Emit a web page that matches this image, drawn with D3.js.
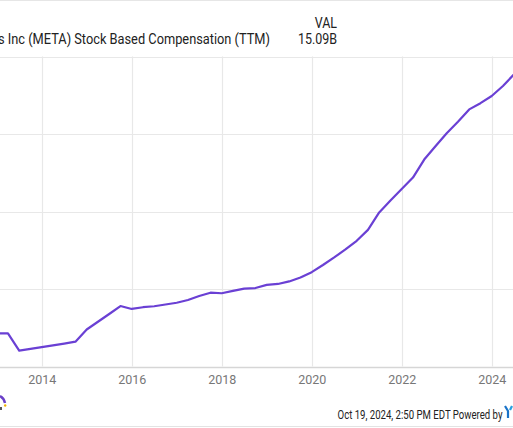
<!DOCTYPE html>
<html>
<head>
<meta charset="utf-8">
<script src="https://cdn.jsdelivr.net/npm/d3@7/dist/d3.min.js"></script>
<style>
html,body{margin:0;padding:0;background:#fff;overflow:hidden;}
svg{display:block;font-family:Roboto,"Noto Sans",sans-serif;}
</style>
</head>
<body>
<svg id="chart" width="513" height="428"></svg>
<script>
// quarter-end dates (fractional years) and TTM stock based compensation (billions USD)
const quarters = [2012.75, 2013.0, 2013.25, 2013.5, 2013.75, 2014.0, 2014.25, 2014.5, 2014.75,
  2015.0, 2015.25, 2015.5, 2015.75, 2016.0, 2016.25, 2016.5, 2016.75, 2017.0, 2017.25, 2017.5,
  2017.75, 2018.0, 2018.25, 2018.5, 2018.75, 2019.0, 2019.25, 2019.5, 2019.75, 2020.0, 2020.25,
  2020.5, 2020.75, 2021.0, 2021.25, 2021.5, 2021.75, 2022.0, 2022.25, 2022.5, 2022.75, 2023.0,
  2023.25, 2023.5, 2023.75, 2024.0, 2024.25, 2024.5];
const sbcTTM = [1.71, 1.71, 1.71, 0.82, 0.91, 1.00, 1.09, 1.18, 1.28,
  1.91, 2.31, 2.71, 3.12, 2.97, 3.06, 3.11, 3.20, 3.29, 3.43, 3.64,
  3.81, 3.78, 3.90, 4.02, 4.05, 4.21, 4.26, 4.39, 4.59, 4.87, 5.24,
  5.63, 6.04, 6.49, 7.05, 7.95, 8.57, 9.16, 9.75, 10.68, 11.37, 12.04,
  12.63, 13.27, 13.59, 13.96, 14.48, 15.09];
const xTickYears = [2014, 2016, 2018, 2020, 2022, 2024];
const yTicks = [0, 4, 8, 12, 16];
const seriesName = "Meta Platforms Inc (META) Stock Based Compensation (TTM)";
const lastValueLabel = "15.09B";
const timestamp = "Oct 19, 2024, 2:50 PM EDT Powered by";

const svg = d3.select("#chart");
const W = 513, H = 428;

const x = d3.scaleLinear().domain([2014, 2024]).range([41.7, 491.7]);
const y = d3.scaleLinear().domain([0, 16]).range([366.5, 56.5]);

// frame lines
svg.append("line").attr("x1", 0).attr("x2", W).attr("y1", 0.5).attr("y2", 0.5)
  .attr("stroke", "#e6e6e6").attr("stroke-width", 1);
svg.append("line").attr("x1", 0).attr("x2", W).attr("y1", 426.5).attr("y2", 426.5)
  .attr("stroke", "#e3e3e3").attr("stroke-width", 1);

// condensed-looking text helper (anchor end at ax, baseline ay)
function condText(txt, ax, ay, size, sx, fill) {
  return svg.append("text")
    .attr("transform", `translate(${ax},${ay}) scale(${sx},1)`)
    .attr("x", 0).attr("y", 0).attr("text-anchor", "end")
    .attr("font-size", size).attr("fill", fill).text(txt);
}

// legend header
condText("VAL", 337, 28, 14, 0.89, "#222");
condText(lastValueLabel, 337, 43.5, 14, 0.89, "#222");
condText(seriesName, 270, 43.5, 14, 0.915, "#222");

// horizontal grid
svg.append("g").selectAll("line").data(yTicks).join("line")
  .attr("x1", 0).attr("x2", W)
  .attr("y1", d => Math.round(y(d)) + 0.5).attr("y2", d => Math.round(y(d)) + 0.5)
  .attr("stroke", d => d === 0 ? "#d6d6d6" : "#e8e8e8").attr("stroke-width", d => d === 0 ? 1.5 : 1.2);

// vertical grid
svg.append("g").selectAll("line").data(xTickYears).join("line")
  .attr("x1", d => Math.round(x(d)) + 0.5).attr("x2", d => Math.round(x(d)) + 0.5)
  .attr("y1", y(16)).attr("y2", y(0))
  .attr("stroke", "#e8e8e8").attr("stroke-width", 1.2);

// x axis labels via d3 axis
const xAxis = d3.axisBottom(x).tickValues(xTickYears).tickFormat(d3.format("d")).tickSize(0).tickPadding(0);
const gx = svg.append("g").attr("transform", `translate(0,${y(0)})`).call(xAxis);
gx.select(".domain").remove();
gx.selectAll("text").attr("font-family", "Roboto, sans-serif").attr("font-size", 12.5)
  .attr("fill", "#777").attr("dy", null).attr("y", 17);

// series line
const line = d3.line().x((d, i) => x(quarters[i])).y(d => y(d));
svg.append("path").datum(sbcTTM).attr("d", line)
  .attr("fill", "none").attr("stroke", "#6a40d4").attr("stroke-width", 2.2)
  .attr("stroke-linejoin", "round");

// footer
condText(timestamp, 502.5, 418.5, 12, 0.8, "#222");

// partial YCharts logo at right edge
const logo = svg.append("g").attr("transform", "translate(505,406)");
logo.append("path").attr("d", "M0,0 L3,5 L3,12").attr("stroke", "#1a73c9").attr("stroke-width", 2.2).attr("fill", "none");
logo.append("path").attr("d", "M7,0 L5,4").attr("stroke", "#29a0e0").attr("stroke-width", 2.2).attr("fill", "none");

// partial logo fragment at bottom-left
const lg = svg.append("g");
lg.append("path").attr("d", "M0,396 Q4,398 5,403").attr("stroke", "#6a3fc8").attr("stroke-width", 2.5).attr("fill", "none");
lg.append("circle").attr("cx", 5.2).attr("cy", 405.5).attr("r", 1.2).attr("fill", "#f0b400");
lg.append("rect").attr("x", 0).attr("y", 407).attr("width", 2).attr("height", 3).attr("fill", "#555");
</script>
</body>
</html>
